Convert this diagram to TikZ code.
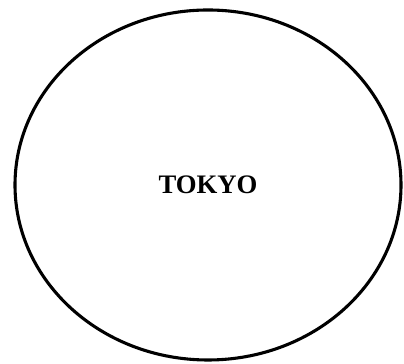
\documentclass[tikz,border=0pt]{standalone}
\usepackage{fontspec}
\setmainfont{Liberation Serif}
\usepackage{tikz}
\usetikzlibrary{shapes.geometric}

\begin{document}
\begin{tikzpicture}[
    city/.style={ellipse, draw, line width=2.2pt, minimum width=9.65cm,
                 minimum height=8.75cm, inner sep=0pt, text centered,
                 font=\fontsize{19}{21}\selectfont\bfseries}]

% page frame -- same proportions as the scan
\useasboundingbox (0,0) rectangle (10.1,9.1);

% the one region
\node (tokyo) [city] at (5.2, 4.475) {TOKYO};

\end{tikzpicture}
\end{document}
